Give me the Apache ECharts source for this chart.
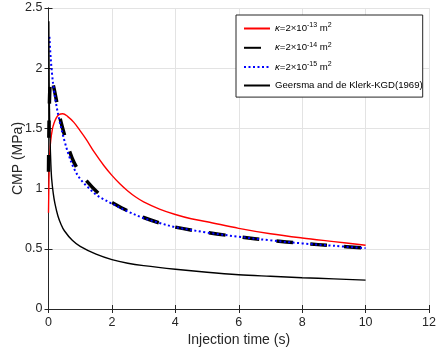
<!DOCTYPE html>
<html><head><meta charset="utf-8">
<script src="https://cdn.jsdelivr.net/npm/echarts@6/dist/echarts.min.js"></script>
<style>html,body{margin:0;padding:0;background:#fff}#c{width:436px;height:355px}</style>
</head><body><div id="c"></div>
<script>
// Data: [time (s), CMP (MPa)]
const xTicks = [0, 2, 4, 6, 8, 10, 12];
const yTicks = [0, 0.5, 1, 1.5, 2, 2.5];
const seriesNames = ['k13', 'k14', 'k15', 'KGD'];
const red13 = [[0,0.8],[0.02,1.15],[0.04,1.3],[0.07,1.4],[0.12,1.49],[0.17,1.54],[0.25,1.59],[0.33,1.615],[0.45,1.622],[0.6,1.6],[0.8,1.55],[1.0,1.48],[1.2,1.405],[1.45,1.3],[1.75,1.19],[2,1.11],[2.25,1.04],[2.5,0.98],[2.75,0.93],[3,0.89],[3.5,0.83],[4,0.785],[4.5,0.75],[5,0.725],[6,0.67],[7,0.625],[8,0.59],[9,0.56],[10,0.53]];
const dash14 = [[0,1.14],[0.02,1.6],[0.05,1.87],[0.08,1.92],[0.15,1.86],[0.23,1.76],[0.35,1.6],[0.5,1.45],[0.65,1.32],[0.8,1.22],[1.0,1.13],[1.25,1.05],[1.5,0.98],[1.75,0.925],[2,0.885],[2.5,0.815],[3,0.76],[3.5,0.715],[4,0.68],[5,0.635],[6,0.6],[7,0.57],[8,0.545],[9,0.525],[10,0.505]];
const blue15 = [[0.03,2.26],[0.07,2.08],[0.12,1.93],[0.17,1.82],[0.25,1.69],[0.35,1.56],[0.5,1.4],[0.65,1.27],[0.8,1.17],[1.0,1.08],[1.25,1.01],[1.5,0.95],[1.75,0.91],[2,0.875],[2.5,0.81],[3,0.755],[3.5,0.715],[4,0.68],[5,0.635],[6,0.6],[7,0.57],[8,0.545],[9,0.525],[10,0.505]];
const kgd = [[0.01,2.39],[0.02,1.9],[0.03,1.66],[0.05,1.4],[0.075,1.2],[0.1,1.08],[0.15,0.96],[0.2,0.88],[0.3,0.77],[0.4,0.7],[0.5,0.65],[0.75,0.57],[1,0.52],[1.5,0.455],[2,0.41],[2.5,0.38],[3,0.36],[4,0.33],[5,0.305],[6,0.285],[7,0.272],[8,0.26],[9,0.25],[10,0.24]];
const legendText = {
  k13: '{k|κ}{n|=2×10}{s|-13}{n| m}{s|2}',
  k14: '{k|κ}{n|=2×10}{s|-14}{n| m}{s|2}',
  k15: '{k|κ}{n|=2×10}{s|-15}{n| m}{s|2}',
  KGD: '{n|Geersma and de Klerk-KGD(1969)}'
};
const FONT = 'Liberation Sans, Arial, Helvetica, sans-serif';
const AX = '#262626';
const LF = 9.6;
const chart = echarts.init(document.getElementById('c'), null, {renderer: 'canvas'});
const baseAxis = {
  type: 'value', axisLine: {show: true, lineStyle: {color: AX, width: 1}},
  axisTick: {show: true, inside: true, length: 4, lineStyle: {color: AX}},
  splitLine: {show: false}, nameMoveOverlap: false
};
chart.setOption({
  animation: false,
  grid: {left: 48.5, right: 7, top: 8, bottom: 46, containLabel: false, outerBoundsMode: 'none'},
  xAxis: [
    Object.assign({}, baseAxis, {min: 0, max: 12, interval: 2, position: 'bottom',
      name: 'Injection time (s)', nameLocation: 'middle', nameGap: 24,
      nameTextStyle: {color: AX, fontFamily: FONT, fontSize: 14},
      axisLabel: {color: AX, fontFamily: FONT, fontSize: 12.5, margin: 7},
      splitLine: {show: true, lineStyle: {color: '#e3e3e3', width: 1}}}),
    Object.assign({}, baseAxis, {min: 0, max: 12, interval: 2, position: 'top', axisLabel: {show: false}})
  ],
  yAxis: [
    Object.assign({}, baseAxis, {min: 0, max: 2.5, interval: 0.5, position: 'left',
      name: 'CMP (MPa)', nameLocation: 'middle', nameGap: 23,
      nameTextStyle: {color: AX, fontFamily: FONT, fontSize: 14},
      axisLabel: {color: AX, fontFamily: FONT, fontSize: 12.5, margin: 6},
      splitLine: {show: true, lineStyle: {color: '#e3e3e3', width: 1}}}),
    Object.assign({}, baseAxis, {min: 0, max: 2.5, interval: 0.5, position: 'right', axisLabel: {show: false}})
  ],
  legend: {
    orient: 'vertical', left: 236, top: 15,
    data: seriesNames,
    formatter: n => legendText[n],
    itemWidth: 26, itemHeight: 14, itemGap: 6.3,
    itemStyle: {opacity: 0, borderWidth: 0},
    padding: [7, 0, 6, 7],
    borderColor: AX, borderWidth: 1, backgroundColor: '#fff', borderRadius: 0,
    textStyle: {color: '#000', fontFamily: FONT, fontSize: LF,
      rich: {
        n: {fontFamily: FONT, fontSize: LF, lineHeight: 14, verticalAlign: 'middle', color: '#000'},
        k: {fontStyle: 'italic', fontFamily: FONT, fontSize: LF, lineHeight: 14, verticalAlign: 'middle', color: '#000'},
        s: {fontSize: 7, fontFamily: FONT, lineHeight: 8, padding: [0, 0, 6, 0], verticalAlign: 'middle', color: '#000'}
      }}
  },
  series: [
    {name: 'k13', type: 'line', data: red13, symbol: 'none', smooth: 0.35,
      lineStyle: {color: '#ff0000', width: 1.4}, itemStyle: {color: '#ff0000'}},
    {name: 'k14', type: 'line', data: dash14, symbol: 'none', smooth: 0.35,
      lineStyle: {color: '#000', width: 3.5, type: [17, 17]}, itemStyle: {color: '#000'}},
    {name: 'k15', type: 'line', data: blue15, symbol: 'none', smooth: 0.35,
      lineStyle: {color: '#0000ff', width: 2, type: [2, 2.5]}, itemStyle: {color: '#0000ff'}},
    {name: 'KGD', type: 'line', data: kgd, symbol: 'none', smooth: 0.35,
      lineStyle: {color: '#000', width: 1.4}, itemStyle: {color: '#000'}}
  ]
});
</script></body></html>
